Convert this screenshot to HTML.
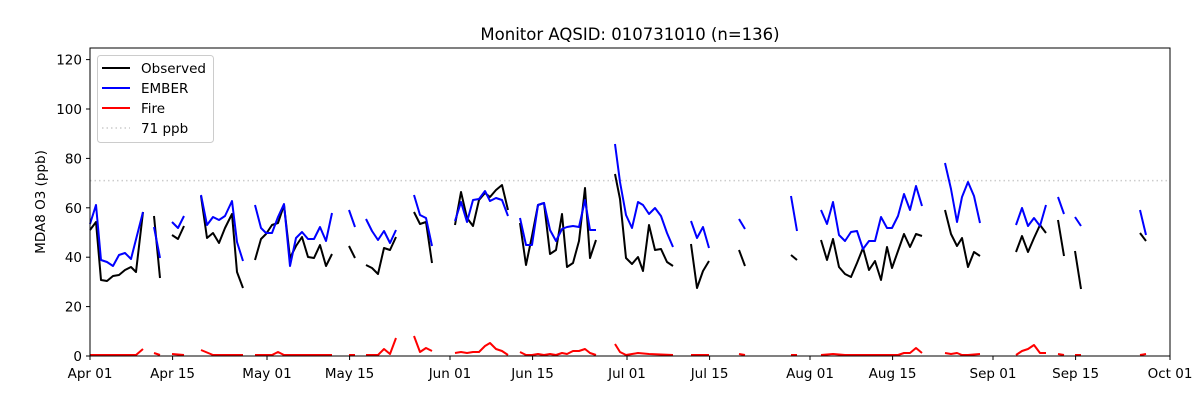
<!DOCTYPE html>
<html><head><style>body{margin:0;background:#fff}svg{display:block;font-family:"DejaVu Sans","Liberation Sans",sans-serif}</style></head>
<body>
<svg width="1200" height="400" viewBox="0 0 1200 400" xmlns="http://www.w3.org/2000/svg">
<rect width="1200" height="400" fill="#fff"/>
<text x="630" y="40" font-size="16.5" text-anchor="middle">Monitor AQSID: 010731010 (n=136)</text>
<line x1="90" y1="180.6" x2="1170" y2="180.6" stroke="#ccc" stroke-width="1.5" stroke-dasharray="1.5,3"/>
<g fill="none" stroke-width="2" stroke-linejoin="round">
<g stroke="#000">
<polyline points="90,230 96,222 101,280 107,281 113,276 119,275 125,270 131,267 136,272 143,212"/>
<polyline points="154,216 160,278"/>
<polyline points="172,235 178,239 184,226"/>
<polyline points="201,196 207,238 213,233 219,243 225,228 232,214 237,272 243,288"/>
<polyline points="255,260 261,239 266,234 272,225 278,223 284,205 290,258 296,246 302,237 308,257 314,258 320,245 326,266 332,254"/>
<polyline points="349,246 355,258"/>
<polyline points="366,265 372,268 378,274 384,248 390,250 396,237"/>
<polyline points="414,212 420,224 426,222 432,263"/>
<polyline points="455,225 461,192 467,218 473,226 479,200 485,193 490,197 496,190 502,185 508,210"/>
<polyline points="520,223 526,265 532,236 538,205 544,203 550,254 556,250 562,214 567,267 573,263 579,241 585,188 590,258 596,240"/>
<polyline points="615,174 620,199 626,258 632,264 638,257 643,271 649,225 655,250 661,249 667,262 673,266"/>
<polyline points="691,244 697,288 703,271 709,261"/>
<polyline points="739,250 745,266"/>
<polyline points="791,255 797,260"/>
<polyline points="821,240 827,260 833,239 839,267 845,274 851,277 857,263 863,248 869,270 875,261 881,280 887,247 892,268 898,251 904,234 910,247 916,234 922,236"/>
<polyline points="945,210 951,234 957,246 962,238 968,267 974,252 980,256"/>
<polyline points="1016,252 1022,236 1028,252 1034,238 1040,225 1046,233"/>
<polyline points="1058,220 1064,256"/>
<polyline points="1075,251 1081,289"/>
<polyline points="1140,233 1146,241"/>
</g>
<g stroke="#00f">
<polyline points="90,224 96,205 101,260 107,262 113,266 119,255 125,253 131,259 143,212"/>
<polyline points="154,227 160,258"/>
<polyline points="172,222 178,228 184,216"/>
<polyline points="201,195 207,225 213,217 219,220 225,216 232,201 237,242 243,261"/>
<polyline points="255,205 261,228 266,233 272,233 278,217 284,204 290,266 296,238 302,232 308,239 314,239 320,227 326,241 332,213"/>
<polyline points="349,210 355,227"/>
<polyline points="366,219 372,231 378,240 384,231 390,243 396,230"/>
<polyline points="414,195 420,215 426,218 432,246"/>
<polyline points="455,221 461,202 467,222 473,200 479,199 485,191 490,201 496,198 502,200 508,216"/>
<polyline points="520,218 526,245 532,245 538,205 544,203 550,230 556,241 562,229 567,227 573,226 579,227 585,200 590,230 596,230"/>
<polyline points="615,144 620,182 626,215 632,228 638,202 643,205 649,214 655,208 661,216 667,233 673,247"/>
<polyline points="691,221 697,238 703,227 709,248"/>
<polyline points="739,219 745,229"/>
<polyline points="791,196 797,231"/>
<polyline points="821,210 827,224 833,202 839,235 845,241 851,232 857,231 863,249 869,241 875,241 881,217 887,228 892,228 898,216 904,194 910,210 916,186 922,206"/>
<polyline points="945,163 951,189 957,222 962,197 968,182 974,196 980,223"/>
<polyline points="1016,225 1022,208 1028,226 1034,218 1040,226 1046,205"/>
<polyline points="1058,197 1064,214"/>
<polyline points="1075,217 1081,226"/>
<polyline points="1140,210 1146,235"/>
</g>
<g stroke="#f00">
<polyline points="90,355 131,355 136,355 143,349"/>
<polyline points="154,353 160,355"/>
<polyline points="172,354 184,355"/>
<polyline points="201,350 213,355 243,355"/>
<polyline points="255,355 272,355 278,352 284,355 332,355"/>
<polyline points="349,355 355,355"/>
<polyline points="366,355 378,355 384,349 390,354 396,338"/>
<polyline points="414,336 420,352 426,348 432,351"/>
<polyline points="455,353 461,352 467,353 473,352 479,352 485,346 490,343 496,349 502,351 508,355"/>
<polyline points="520,352 526,355 532,355 538,354 544,355 550,354 556,355 562,353 567,354 573,351 579,351 585,349 590,353 596,355"/>
<polyline points="615,344 620,352 626,355 632,354 638,353 649,354 673,355"/>
<polyline points="691,355 709,355"/>
<polyline points="739,354 745,355"/>
<polyline points="791,355 797,355"/>
<polyline points="821,355 833,354 845,355 898,355 904,353 910,353 916,348 922,353"/>
<polyline points="945,353 951,354 957,353 962,355 968,355 980,354"/>
<polyline points="1016,355 1022,351 1028,349 1034,345 1040,353 1046,353"/>
<polyline points="1058,354 1064,355"/>
<polyline points="1075,355 1081,355"/>
<polyline points="1140,355 1146,354"/>
</g>
</g>
<rect x="90" y="48" width="1080" height="308" fill="none" stroke="#000" stroke-width="1"/>
<g stroke="#000" stroke-width="1">
<line x1="90" y1="356" x2="90" y2="360"/><line x1="172.6" y1="356" x2="172.6" y2="360"/><line x1="267" y1="356" x2="267" y2="360"/><line x1="349.6" y1="356" x2="349.6" y2="360"/><line x1="450" y1="356" x2="450" y2="360"/><line x1="532.6" y1="356" x2="532.6" y2="360"/><line x1="627" y1="356" x2="627" y2="360"/><line x1="709.6" y1="356" x2="709.6" y2="360"/><line x1="810" y1="356" x2="810" y2="360"/><line x1="892.6" y1="356" x2="892.6" y2="360"/><line x1="993" y1="356" x2="993" y2="360"/><line x1="1075.6" y1="356" x2="1075.6" y2="360"/><line x1="1170" y1="356" x2="1170" y2="360"/>
<line x1="86" y1="356" x2="90" y2="356"/><line x1="86" y1="306.6" x2="90" y2="306.6"/><line x1="86" y1="257.2" x2="90" y2="257.2"/><line x1="86" y1="207.8" x2="90" y2="207.8"/><line x1="86" y1="158.4" x2="90" y2="158.4"/><line x1="86" y1="109" x2="90" y2="109"/><line x1="86" y1="59.6" x2="90" y2="59.6"/>
</g>
<g font-size="13.5" text-anchor="middle">
<text x="90" y="378">Apr 01</text><text x="172.6" y="378">Apr 15</text><text x="267" y="378">May 01</text><text x="349.6" y="378">May 15</text><text x="450" y="378">Jun 01</text><text x="532.6" y="378">Jun 15</text><text x="627" y="378">Jul 01</text><text x="709.6" y="378">Jul 15</text><text x="810" y="378">Aug 01</text><text x="892.6" y="378">Aug 15</text><text x="993" y="378">Sep 01</text><text x="1075.6" y="378">Sep 15</text><text x="1170" y="378">Oct 01</text>
</g>
<g font-size="13.5" text-anchor="end">
<text x="82" y="361">0</text><text x="82" y="311.6">20</text><text x="82" y="262.2">40</text><text x="82" y="212.8">60</text><text x="82" y="163.4">80</text><text x="82" y="114">100</text><text x="82" y="64.6">120</text>
</g>
<text transform="translate(45,202) rotate(-90)" font-size="13.5" text-anchor="middle">MDA8 O3 (ppb)</text>
<rect x="97.5" y="55.5" width="116" height="87" rx="3" fill="#fff" fill-opacity="0.8" stroke="#ccc"/>
<g stroke-width="2">
<line x1="102" y1="68" x2="130" y2="68" stroke="#000"/>
<line x1="102" y1="88" x2="130" y2="88" stroke="#00f"/>
<line x1="102" y1="108" x2="130" y2="108" stroke="#f00"/>
<line x1="102" y1="128" x2="130" y2="128" stroke="#ccc" stroke-width="1.5" stroke-dasharray="1.5,3"/>
</g>
<g font-size="13.5">
<text x="141" y="73">Observed</text><text x="141" y="93">EMBER</text><text x="141" y="113">Fire</text><text x="141" y="133">71 ppb</text>
</g>
</svg>
</body></html>
